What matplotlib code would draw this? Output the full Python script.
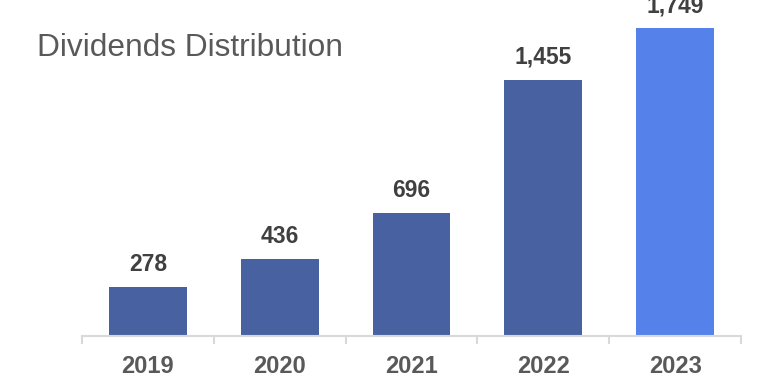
import matplotlib.pyplot as plt
import numpy as np

plt.rcParams['font.family'] = ['Liberation Sans', 'DejaVu Sans']

years = ['2019', '2020', '2021', '2022', '2023']
dividends = [278, 436, 696, 1455, 1749]
labels = ['278', '436', '696', '1,455', '1,749']

dark_blue = '#4861a0'
light_blue = '#5582ea'
colors = [dark_blue] * 4 + [light_blue]

fig = plt.figure(figsize=(7.69, 3.82), dpi=100)
ax = fig.add_axes([82 / 769, 46 / 382, 659 / 769, 336 / 382])

x = np.arange(len(years))
ax.bar(x, dividends, width=0.59, color=colors, zorder=2)

for xi, v, lab in zip(x, dividends, labels):
    ax.annotate(lab, (xi, v), xytext=(0, 16), textcoords='offset pixels',
                ha='center', va='baseline', fontsize=16.5, fontweight='bold',
                color='#404040', annotation_clip=False)

ax.set_xlim(-0.5, len(years) - 0.5)
ax.set_ylim(0, 1909)

for s in ['top', 'right', 'left']:
    ax.spines[s].set_visible(False)
ax.spines['bottom'].set_color('#d9d9d9')
ax.spines['bottom'].set_linewidth(1.5)

ax.set_yticks([])
ax.set_xticks(np.arange(-0.5, len(years)), minor=False)
ax.set_xticklabels([])
ax.tick_params(axis='x', which='major', length=6, width=1.5, color='#d9d9d9')
ax.set_xticks(x, minor=True)
ax.set_xticklabels(years, minor=True, fontsize=17, fontweight='bold', color='#595959')
ax.tick_params(axis='x', which='minor', length=0, pad=14)

fig.text(37 / 769, 1 - 48 / 382, 'Dividends Distribution', fontsize=22.8,
         color='#595959', va='center', ha='left')

fig.savefig('out.png', dpi=100)
